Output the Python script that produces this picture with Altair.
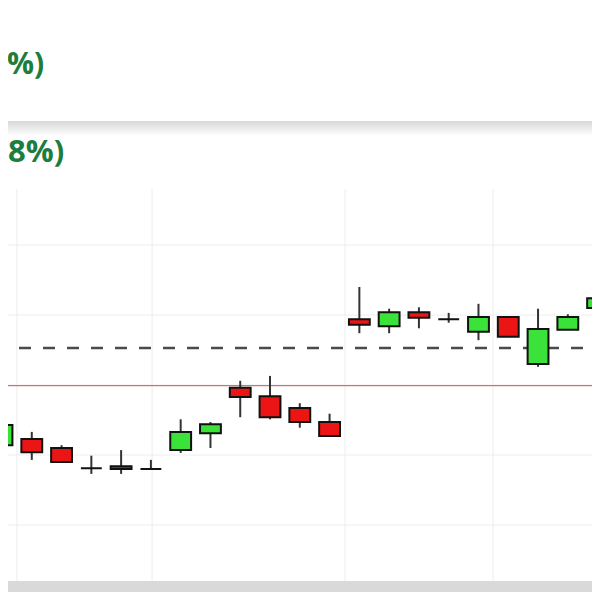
import altair as alt
import pandas as pd

# ---- data ----
bar_index = list(range(21))
opens  = [10.114, 10.123, 10.110, 10.081, 10.084, 10.080, 10.107, 10.131, 10.196, 10.184, 10.167,
          10.147, 10.294, 10.284, 10.304, 10.294, 10.276, 10.297, 10.230, 10.279, 10.310]
highs  = [10.146, 10.133, 10.114, 10.099, 10.107, 10.093, 10.151, 10.147, 10.206, 10.213, 10.174,
          10.159, 10.340, 10.309, 10.311, 10.303, 10.316, 10.297, 10.309, 10.301, 10.324]
lows   = [10.093, 10.093, 10.090, 10.073, 10.073, 10.080, 10.103, 10.110, 10.154, 10.151, 10.139,
          10.127, 10.274, 10.274, 10.281, 10.289, 10.264, 10.269, 10.226, 10.279, 10.303]
closes = [10.143, 10.104, 10.090, 10.081, 10.080, 10.080, 10.133, 10.144, 10.183, 10.154, 10.147,
          10.127, 10.286, 10.304, 10.296, 10.294, 10.297, 10.269, 10.280, 10.297, 10.324]

price_grid = [10.0, 10.1, 10.2, 10.3, 10.4]
time_grid = [0.5, 5.04, 11.52, 16.49]
prev_close = [10.199]
avg_price = [10.253]
header_texts = ["%)", "8%)"]

GREEN = "#3ae23a"
RED = "#ec1515"
TEXT_GREEN = "#1c7d3c"

candles = pd.DataFrame({"i": bar_index, "open": opens, "high": highs, "low": lows, "close": closes})

x_scale = alt.Scale(domain=[0.2015, 19.812], nice=False, zero=False)
y_scale = alt.Scale(domain=[9.92, 10.48], nice=False, zero=False)

one = pd.DataFrame({"k": [0]})

hgrid = alt.Chart(pd.DataFrame({"p": price_grid})).mark_rule(color="#ededed", strokeWidth=1).encode(
    y=alt.Y("p:Q", scale=y_scale, axis=None))
vgrid = alt.Chart(pd.DataFrame({"g": time_grid})).mark_rule(color="#ededed", strokeWidth=1).encode(
    x=alt.X("g:Q", scale=x_scale, axis=None))
red_line = alt.Chart(pd.DataFrame({"p": prev_close})).mark_rule(color="#c4574f", strokeWidth=1).encode(
    y=alt.Y("p:Q", scale=y_scale, axis=None))
dash_line = alt.Chart(pd.DataFrame({"p": avg_price})).mark_rule(
    color="#4a4a4a", strokeWidth=2.5, strokeDash=[12, 12], strokeDashOffset=15).encode(
    y=alt.Y("p:Q", scale=y_scale, axis=None))

base = alt.Chart(candles)
wicks = base.mark_rule(color="#333333", strokeWidth=2).encode(
    x=alt.X("i:Q", scale=x_scale, axis=None),
    y=alt.Y("low:Q", scale=y_scale, axis=None),
    y2="high:Q")
bodies = base.transform_calculate(
    x1="datum.i - 0.35", x2="datum.i + 0.35",
    dir="datum.close >= datum.open ? 'up' : 'down'"
).mark_rect(stroke="#111111", strokeWidth=2).encode(
    x=alt.X("x1:Q", scale=x_scale, axis=None),
    x2="x2:Q",
    y=alt.Y("open:Q", scale=y_scale, axis=None),
    y2="close:Q",
    fill=alt.Fill("dir:N", scale=alt.Scale(domain=["up", "down"], range=[GREEN, RED]), legend=None))

# decorations of the app screen (pixel positions relative to plot area)
shadow = alt.Chart(one).mark_rect(
    color=alt.Gradient(gradient="linear", stops=[
        alt.GradientStop(color="#d8d8d8", offset=0),
        alt.GradientStop(color="#ffffff", offset=1)], x1=0, x2=0, y1=0, y2=1)
).encode(x=alt.value(0), x2=alt.value(584), y=alt.value(-68), y2=alt.value(-53))

bottom_bar = alt.Chart(one).mark_rect(color="#d9d9d9").encode(
    x=alt.value(0), x2=alt.value(584), y=alt.value(392), y2=alt.value(403))

head1 = alt.Chart(one).mark_text(text=header_texts[0], align="left", baseline="alphabetic",
                                 font="Open Sans", fontSize=30, fontWeight="bold", color=TEXT_GREEN).encode(
    x=alt.value(-1), y=alt.value(-115))
head2 = alt.Chart(one).mark_text(text=header_texts[1], align="left", baseline="alphabetic",
                                 font="Open Sans", fontSize=31, fontWeight="bold", color=TEXT_GREEN).encode(
    x=alt.value(0), y=alt.value(-27))

chart = alt.layer(hgrid, vgrid, red_line, dash_line, wicks, bodies, shadow, bottom_bar, head1, head2).properties(
    width=584, height=392,
    padding={"left": 0, "top": 181, "right": 0, "bottom": 11},
    autosize=alt.AutoSizeParams(type="none"),
    background="white"
).configure_view(stroke=None)

chart.save("out.html", embed_options={"renderer": "svg", "actions": False})
